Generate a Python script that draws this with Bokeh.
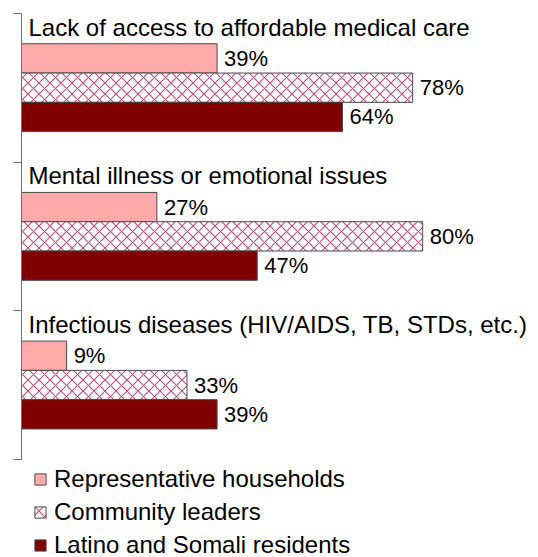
from bokeh.plotting import figure
from bokeh.models import Range1d, FixedTicker, Legend, LegendItem, ColumnDataSource
from bokeh.core.properties import value
from bokeh.embed import file_html
from bokeh.resources import INLINE

categories = [
    "Lack of access to affordable medical care",
    "Mental illness or emotional issues",
    "Infectious diseases (HIV/AIDS, TB, STDs, etc.)",
]
series_names = [
    "Representative households",
    "Community leaders",
    "Latino and Somali residents",
]
households = [39, 27, 9]
leaders = [78, 80, 33]
residents = [64, 47, 39]

FONT = value("Liberation Sans")
n = len(categories)
band = list(range(n))
offsets = [0.302, 0.499, 0.696]
bar_h = 0.197

W, H = 538, 557
left, top = 21, 13
px_per_pct = 5.015
px_per_band = 148.67
x_end = (W - left) / px_per_pct
y_end = (H - top) / px_per_band

p = figure(width=W, height=H, x_range=Range1d(0, x_end),
           y_range=Range1d(y_end, 0),
           output_backend="svg", toolbar_location=None,
           min_border_left=left, min_border_right=0, min_border_top=top,
           min_border_bottom=0, x_axis_location=None)
p.outline_line_color = None
p.xgrid.visible = False
p.ygrid.visible = False
p.background_fill_color = "white"
p.border_fill_color = "white"

ax = p.yaxis[0]
ax.ticker = FixedTicker(ticks=list(range(n + 1)))
ax.bounds = (0, n)
ax.major_tick_out = 8
ax.major_tick_in = 0
ax.minor_tick_line_color = None
ax.major_label_overrides = {i: "" for i in range(n + 1)}
ax.major_label_standoff = 0
ax.axis_line_color = "#6e6e6e"
ax.major_tick_line_color = "#6e6e6e"

styles = [
    dict(fill_color="#ffaaaa"),
    dict(fill_color="white", hatch_pattern="diagonal_cross",
         hatch_color="#b4507c", hatch_scale=11, hatch_weight=1.1),
    dict(fill_color="#800000"),
]
series = [households, leaders, residents]
renderers = []
for k, (vals, st) in enumerate(zip(series, styles)):
    src = ColumnDataSource(dict(
        y=[b + offsets[k] for b in band],
        v=vals,
        lab=[f"{v}%" for v in vals],
    ))
    r = p.hbar(y="y", right="v", left=0, height=bar_h, source=src,
               line_color="#4a4a4a", line_width=1, **st)
    renderers.append(r)
    p.text(x="v", y="y", text="lab", source=src, x_offset=7,
           text_baseline="middle", text_align="left",
           text_font=FONT, text_font_size="22px", text_color="black")

csrc = ColumnDataSource(dict(y=[b + 0.092 for b in band], t=categories,
                             x=[0] * n))
p.text(x="x", y="y", text="t", source=csrc, x_offset=7,
       text_baseline="middle", text_align="left",
       text_font=FONT, text_font_size="24px", text_color="black")

legend = Legend(
    items=[LegendItem(label=s, renderers=[r]) for s, r in zip(series_names, renderers)],
    location=(12, -2), orientation="vertical",
    glyph_width=14, glyph_height=14, label_standoff=7,
    spacing=5, padding=0, margin=0,
    border_line_alpha=0, background_fill_alpha=0,
    label_text_font="Liberation Sans", label_text_font_size="24px",
    label_text_color="black",
    label_height=20, label_text_baseline="middle",
)
p.add_layout(legend, "center")

open("out.html", "w").write(file_html(p, INLINE))
